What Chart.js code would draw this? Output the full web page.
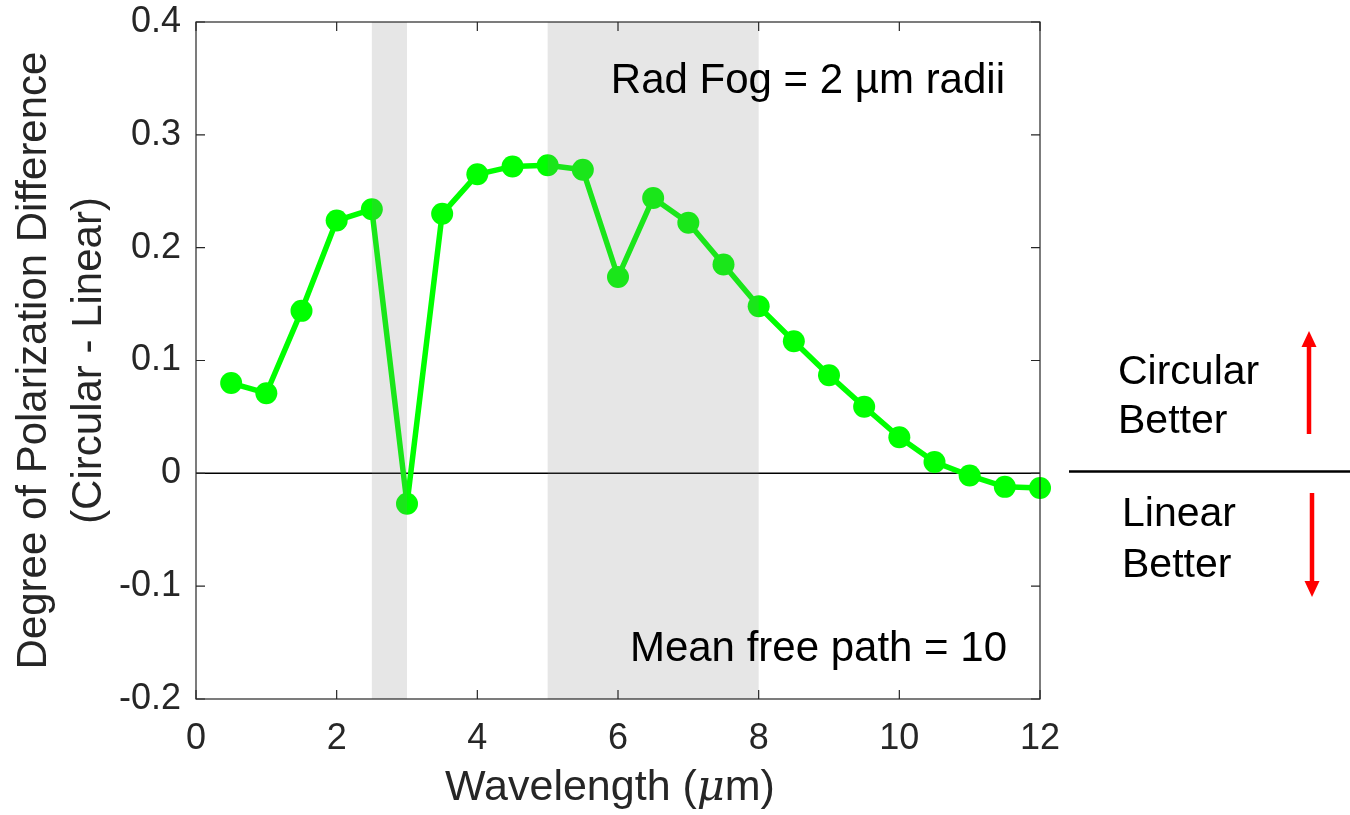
<!DOCTYPE html>
<html>
<head>
<meta charset="utf-8">
<script src="https://cdn.jsdelivr.net/npm/chart.js@4.4.0/dist/chart.umd.min.js"></script>
<style>
  html, body { margin: 0; padding: 0; background: #ffffff; overflow: hidden; }
  canvas { display: block; }
</style>
</head>
<body>
<canvas id="dopChart" width="1350" height="815"></canvas>
<script>
// Wavelength samples (µm) and the circular-minus-linear degree of polarization
const wavelengths = [0.5, 1, 1.5, 2, 2.5, 3, 3.5, 4, 4.5, 5, 5.5, 6,
                     6.5, 7, 7.5, 8, 8.5, 9, 9.5, 10, 10.5, 11, 11.5, 12];
const dopDifference = [0.080, 0.071, 0.144, 0.224, 0.234, -0.027, 0.230, 0.265,
                       0.272, 0.273, 0.269, 0.174, 0.244, 0.222, 0.185, 0.148,
                       0.117, 0.087, 0.059, 0.032, 0.010, -0.002, -0.012, -0.013];

// Atmospheric absorption windows shaded on the plot (µm)
const shadedBands = [[2.5, 3], [5, 8]];

// Axis ticks
const xTickValues = [0, 2, 4, 6, 8, 10, 12];
const yTickValues = [-0.2, -0.1, 0, 0.1, 0.2, 0.3, 0.4];

const FONT = "'Liberation Sans', Arial, Helvetica, sans-serif";
const AXIS_COLOR = '#262626';

const overlayPlugin = {
  id: 'overlay',
  beforeDatasetsDraw(chart) {
    const { ctx, chartArea: a, scales: { y } } = chart;
    const y0 = y.getPixelForValue(0);
    ctx.save();
    ctx.strokeStyle = '#000000';
    ctx.lineWidth = 1.5;
    ctx.beginPath();
    ctx.moveTo(a.left, y0);
    ctx.lineTo(a.right, y0);
    ctx.stroke();
    ctx.restore();
  },
  afterDatasetsDraw(chart) {
    const { ctx, chartArea: a, scales: { x } } = chart;
    ctx.save();
    ctx.fillStyle = 'rgba(128,128,128,0.2)';
    shadedBands.forEach(([lo, hi]) => {
      const x1 = x.getPixelForValue(lo);
      const x2 = x.getPixelForValue(hi);
      ctx.fillRect(x1, a.top, x2 - x1, a.bottom - a.top);
    });
    ctx.restore();
  },
  afterDraw(chart) {
    const { ctx, chartArea: a, scales: { x, y } } = chart;
    ctx.save();
    // axes box with inward ticks
    ctx.strokeStyle = AXIS_COLOR;
    ctx.lineWidth = 1.2;
    ctx.strokeRect(a.left, a.top, a.right - a.left, a.bottom - a.top);
    const tl = 9;
    ctx.beginPath();
    xTickValues.forEach(v => {
      const px = x.getPixelForValue(v);
      ctx.moveTo(px, a.bottom); ctx.lineTo(px, a.bottom - tl);
      ctx.moveTo(px, a.top); ctx.lineTo(px, a.top + tl);
    });
    yTickValues.forEach(v => {
      const py = y.getPixelForValue(v);
      ctx.moveTo(a.left, py); ctx.lineTo(a.left + tl, py);
      ctx.moveTo(a.right, py); ctx.lineTo(a.right - tl, py);
    });
    ctx.stroke();

    // x axis title with italic mu
    ctx.fillStyle = AXIS_COLOR;
    ctx.textBaseline = 'alphabetic';
    const fN = `43px ${FONT}`;
    const fI = `italic 43px 'DejaVu Serif', 'Liberation Serif', serif`;
    const parts = [['Wavelength (', fN], ['\u03bc', fI], ['m)', fN]];
    let total = 0;
    parts.forEach(([t, f]) => { ctx.font = f; total += ctx.measureText(t).width; });
    let cx = 610 - total / 2;
    parts.forEach(([t, f]) => {
      ctx.font = f;
      ctx.textAlign = 'left';
      ctx.fillText(t, cx, 800);
      cx += ctx.measureText(t).width;
    });

    // in-plot annotations
    ctx.fillStyle = '#000000';
    ctx.font = `42px ${FONT}`;
    ctx.textAlign = 'right';
    ctx.fillText('Rad Fog = 2 \u00b5m radii', 1005, 93);
    ctx.fillText('Mean free path = 10', 1007, 661);

    // side legend: which polarization wins
    ctx.font = `41px ${FONT}`;
    ctx.textAlign = 'left';
    ctx.fillText('Circular', 1118, 384);
    ctx.fillText('Better', 1118, 433);
    ctx.fillText('Linear', 1122, 526);
    ctx.fillText('Better', 1122, 577);

    ctx.strokeStyle = '#000000';
    ctx.lineWidth = 2.5;
    ctx.beginPath();
    ctx.moveTo(1069, 471.5);
    ctx.lineTo(1350, 471.5);
    ctx.stroke();

    const arrow = (xp, yFrom, yTo) => {
      const dir = Math.sign(yTo - yFrom);
      const headLen = 16, headHalf = 7.5;
      ctx.strokeStyle = '#ff0000';
      ctx.fillStyle = '#ff0000';
      ctx.lineWidth = 4.5;
      ctx.beginPath();
      ctx.moveTo(xp, yFrom);
      ctx.lineTo(xp, yTo - dir * headLen);
      ctx.stroke();
      ctx.beginPath();
      ctx.moveTo(xp, yTo);
      ctx.lineTo(xp - headHalf, yTo - dir * headLen);
      ctx.lineTo(xp + headHalf, yTo - dir * headLen);
      ctx.closePath();
      ctx.fill();
    };
    arrow(1309, 434, 331);
    arrow(1312, 493, 597);
    ctx.restore();
  }
};

new Chart(document.getElementById('dopChart'), {
  type: 'line',
  data: {
    datasets: [{
      data: wavelengths.map((w, i) => ({ x: w, y: dopDifference[i] })),
      borderColor: '#00ff00',
      backgroundColor: '#00ff00',
      borderWidth: 5.5,
      borderJoinStyle: 'round',
      borderCapStyle: 'round',
      pointRadius: 11,
      pointHoverRadius: 11,
      pointBorderWidth: 0,
      pointBackgroundColor: '#00ff00',
      tension: 0,
      clip: false
    }]
  },
  options: {
    responsive: false,
    animation: false,
    devicePixelRatio: 1,
    layout: { padding: { top: 22, right: 310, bottom: 0, left: 0 } },
    plugins: { legend: { display: false }, tooltip: { enabled: false } },
    scales: {
      x: {
        type: 'linear',
        min: 0, max: 12,
        afterBuildTicks: s => { s.ticks = xTickValues.map(v => ({ value: v })); },
        afterFit: s => { s.height = 116; s.paddingLeft = 0; s.paddingRight = 0; },
        grid: { display: false, drawTicks: false },
        border: { display: false },
        ticks: {
          padding: 18,
          color: AXIS_COLOR,
          font: { family: FONT, size: 36 },
          maxRotation: 0,
          callback: v => String(v)
        }
      },
      y: {
        type: 'linear',
        min: -0.2, max: 0.4,
        afterBuildTicks: s => { s.ticks = yTickValues.map(v => ({ value: v })); },
        afterFit: s => { s.width = 196; s.paddingTop = 0; s.paddingBottom = 0; },
        grid: { display: false, drawTicks: false },
        border: { display: false },
        ticks: {
          padding: 15,
          color: AXIS_COLOR,
          font: { family: FONT, size: 36 },
          callback: v => String(Number(v.toFixed(1)))
        },
        title: {
          display: true,
          text: ['Degree of Polarization Difference', '(Circular - Linear)'],
          color: AXIS_COLOR,
          font: { family: FONT, size: 42, lineHeight: 1.31 },
          padding: { top: 7, bottom: 0 }
        }
      }
    }
  },
  plugins: [overlayPlugin]
});
</script>
</body>
</html>
